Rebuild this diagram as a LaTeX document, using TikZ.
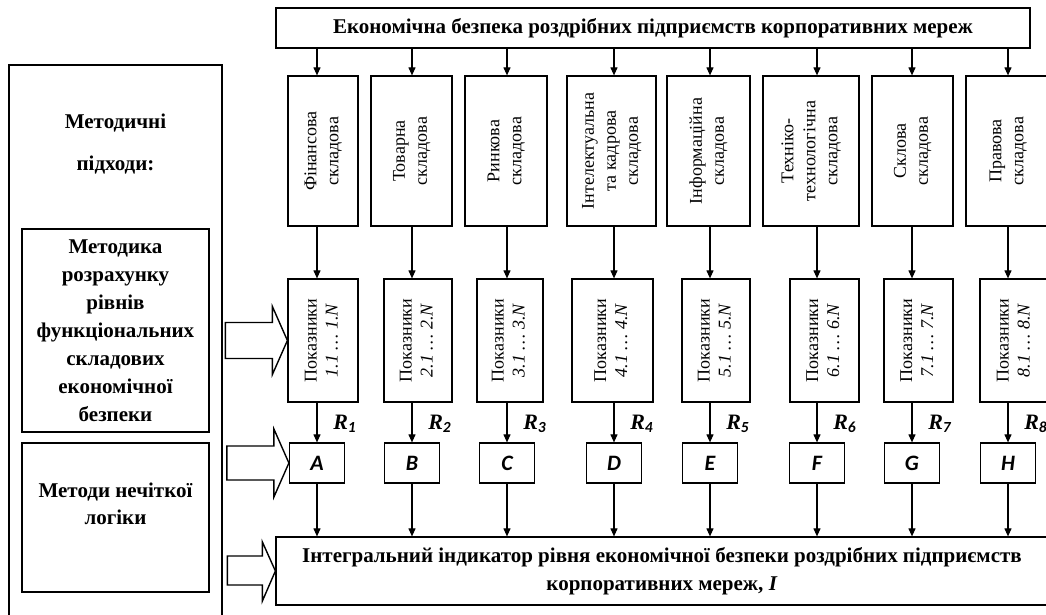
\documentclass[tikz,border=0pt]{standalone}
\usepackage{fontspec}
\usepackage{graphicx}
\setmainfont{Liberation Serif}
\newfontfamily\calibri{Carlito}
\usetikzlibrary{arrows.meta,calc}
\newcommand\myvtext[1]{\rotatebox{90}{\begin{tabular}{@{}c@{}}#1\end{tabular}}}
\begin{document}
\begin{tikzpicture}[x=0.5pt,y=-0.5pt,
  box/.style={draw, line width=0.6pt, inner sep=0pt, fill=white},
  arr/.style={line width=0.55pt, -{Triangle[length=4pt,width=3.5pt]}},
  comp/.style={box, minimum height=75pt, font=\fontsize{9}{11}\selectfont},
  ind/.style={box, minimum height=61.5pt, font=\fontsize{9}{10.5}\selectfont},
  let/.style={box, minimum width=27.5pt, minimum height=20pt, font=\calibri\bfseries\itshape\fontsize{11}{12}\selectfont},
  rlab/.style={font=\bfseries\itshape\fontsize{11}{12}\selectfont, inner sep=0pt},
  lefttxt/.style={font=\bfseries\fontsize{10.5}{14}\selectfont, align=center},
  blk/.style={draw, line width=0.7pt, fill=white, line join=miter}
  ]
\useasboundingbox (0,0) rectangle (1046,615);

% left panel
\node[box, minimum width=106.5pt, minimum height=280pt] (outer) at (115.5,345) {};
\node[lefttxt, font=\bfseries\fontsize{10.5}{21}\selectfont] (mp) at (115.5,144) {Методичні\\підходи:};
\node[box, minimum width=93.5pt, minimum height=101.5pt, lefttxt] (m1) at (115.5,330.5)
  {Методика\\розрахунку\\рівнів\\функціональних\\складових\\економічної\\безпеки};
\node[box, minimum width=93.5pt, minimum height=74.5pt] (m2) at (115.5,517.5) {};
\node[lefttxt, font=\bfseries\fontsize{10.5}{13.5}\selectfont] (m2t) at (115.5,503.5) {Методи нечіткої\\логіки};

% top and bottom
\node[box, minimum width=377pt, minimum height=20pt, font=\bfseries\fontsize{10.5}{12}\selectfont] (top) at (653,28)
  {Економічна безпека роздрібних підприємств корпоративних мереж};
\node[box, minimum width=386pt, minimum height=34pt, align=center, font=\bfseries\fontsize{10.5}{14}\selectfont] (bot) at (662,571)
  {Інтегральний індикатор рівня економічної безпеки роздрібних підприємств\\корпоративних мереж, \textit{I}};

% column x
\coordinate (x1) at (317,0);
\coordinate (x2) at (412,0);
\coordinate (x3) at (507,0);
\coordinate (x4) at (614,0);
\coordinate (x5) at (710,0);
\coordinate (x6) at (817,0);
\coordinate (x7) at (912,0);
\coordinate (x8) at (1008,0);

% components
\node[comp, minimum width=35pt]   (c1) at (323,151)    {\myvtext{Фінансова\\складова}};
\node[comp, minimum width=40.5pt] (c2) at (411.5,151)  {\myvtext{Товарна\\складова}};
\node[comp, minimum width=41pt]   (c3) at (506,151)    {\myvtext{Ринкова\\складова}};
\node[comp, minimum width=44.5pt] (c4) at (611.5,151)  {\myvtext{Інтелектуальна\\та кадрова\\складова}};
\node[comp, minimum width=41.5pt] (c5) at (708.5,151)  {\myvtext{Інформаційна\\складова}};
\node[comp, minimum width=48pt]   (c6) at (811,151)    {\myvtext{Техніко-\\технологічна\\складова}};
\node[comp, minimum width=40.5pt] (c7) at (912.5,151)  {\myvtext{Склова\\складова}};
\node[comp, minimum width=42pt]   (c8) at (1008,151)   {\myvtext{Правова\\складова}};

% indicators
\node[ind, minimum width=35pt]   (p1) at (323,340.5)   {\myvtext{Показники\\\textit{1.1 … 1.N}}};
\node[ind, minimum width=34pt]   (p2) at (418,340.5)   {\myvtext{Показники\\\textit{2.1 … 2.N}}};
\node[ind, minimum width=33pt]   (p3) at (510,340.5)   {\myvtext{Показники\\\textit{3.1 … 3.N}}};
\node[ind, minimum width=40.5pt] (p4) at (612.5,340.5) {\myvtext{Показники\\\textit{4.1 … 4.N}}};
\node[ind, minimum width=34pt]   (p5) at (716,340.5)   {\myvtext{Показники\\\textit{5.1 … 5.N}}};
\node[ind, minimum width=34.5pt] (p6) at (824.5,340.5) {\myvtext{Показники\\\textit{6.1 … 6.N}}};
\node[ind, minimum width=34.5pt] (p7) at (918.5,340.5) {\myvtext{Показники\\\textit{7.1 … 7.N}}};
\node[ind, minimum width=35pt]   (p8) at (1015,340.5)  {\myvtext{Показники\\\textit{8.1 … 8.N}}};

% letters
\node[let] (L1) at (317,463) {A};
\node[let] (L2) at (412,463) {B};
\node[let] (L3) at (507,463) {C};
\node[let] (L4) at (614,463) {D};
\node[let] (L5) at (710,463) {E};
\node[let] (L6) at (817,463) {F};
\node[let] (L7) at (912,463) {G};
\node[let] (L8) at (1008,463) {H};

% R labels
\foreach \i/\xx in {1/317,2/412,3/507,4/614,5/710,6/817,7/912,8/1008} {
  \node[rlab] (r\i) at (\xx+28,424) {R\textsubscript{\calibri\i}};
}

% connectors
\foreach \i in {1,...,8} {
  \draw[arr] (x\i |- top.south) -- (x\i |- c\i.north);
  \draw[arr] (x\i |- c\i.south) -- (x\i |- p\i.north);
  \draw[arr] (x\i |- p\i.south) -- (L\i.north);
  \draw[arr] (L\i.south) -- (L\i.south |- bot.north);
}

% block arrows
\draw[blk] ($(p1.west)+(-62,-18)$) -- ($(p1.west)+(-15,-18)$) -- ($(p1.west)+(-15,-34)$) -- (p1.west)
  -- ($(p1.west)+(-15,34)$) -- ($(p1.west)+(-15,18)$) -- ($(p1.west)+(-62,18)$) -- cycle;
\draw[blk] ($(L1.west)+(-62,-17)$) -- ($(L1.west)+(-15,-17)$) -- ($(L1.west)+(-15,-34)$) -- (L1.west)
  -- ($(L1.west)+(-15,34)$) -- ($(L1.west)+(-15,17)$) -- ($(L1.west)+(-62,17)$) -- cycle;
\draw[blk] ($(bot.west)+(-48,-15)$) -- ($(bot.west)+(-13,-15)$) -- ($(bot.west)+(-13,-29)$) -- (bot.west)
  -- ($(bot.west)+(-13,30)$) -- ($(bot.west)+(-13,14)$) -- ($(bot.west)+(-48,14)$) -- cycle;
\end{tikzpicture}
\end{document}
